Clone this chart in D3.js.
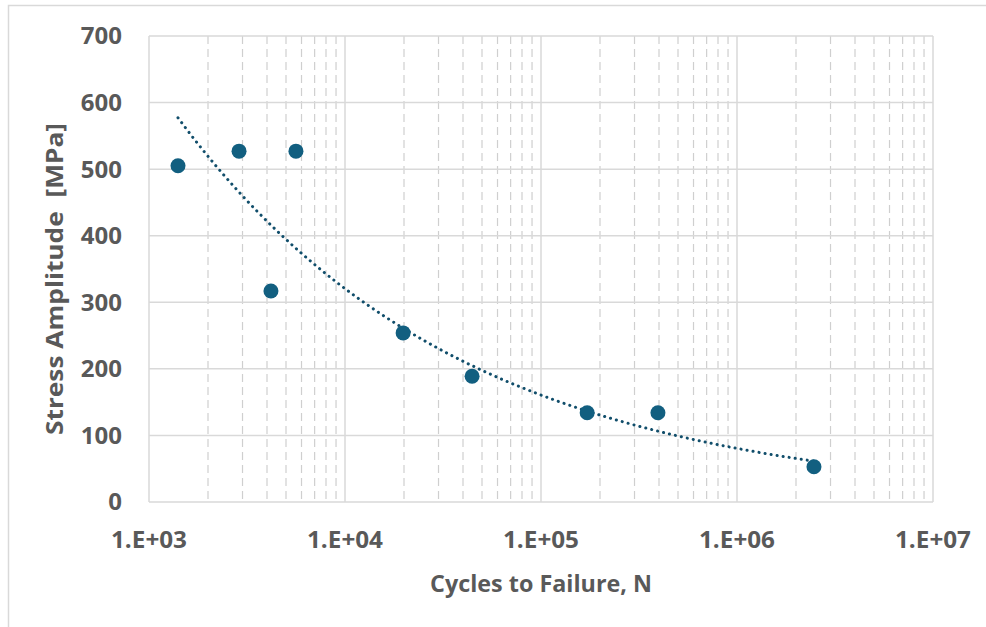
<!DOCTYPE html>
<html>
<head>
<meta charset="utf-8">
<script src="https://cdn.jsdelivr.net/npm/d3@7"></script>
<style>
  body { margin: 0; background: #fff; }
  svg text { font-family: "Open Sans", "Liberation Sans", sans-serif; font-weight: 700; fill: #595959; }
</style>
</head>
<body>
<svg id="chart" width="986" height="627"></svg>
<script>
// measured specimens: cycles to failure vs stress amplitude
var cycles = [1406, 2880, 5620, 4190, 19800, 44500, 172000, 395000, 2470000];
var stress = [505, 527, 527, 317, 254, 189, 134, 134, 53];

var yTicks = [0, 100, 200, 300, 400, 500, 600, 700];
var xDecades = [1e3, 1e4, 1e5, 1e6, 1e7];
var xTickLabels = ['1.E+03', '1.E+04', '1.E+05', '1.E+06', '1.E+07'];

const plotLeft = 149;
const plotRight = 933;
const plotTop = 36;
const plotBottom = 502;
const gridColor = '#d9d9d9';
const dotColor = '#125f80';
const trendColor = '#114e6b';

var svg = d3.select('#chart');

// outer chart frame (runs off the right/bottom of the photo)
svg.append('rect')
  .attr('x', 8.5).attr('y', 5.5)
  .attr('width', 1000).attr('height', 640)
  .attr('fill', 'none').attr('stroke', gridColor).attr('stroke-width', 1.5);

var x = d3.scaleLog().domain([1e3, 1e7]).range([plotLeft, plotRight]);
var y = d3.scaleLinear().domain([0, 700]).range([plotBottom, plotTop]);

// minor decade lines 2..9 x 10^k
var minorTicks = [];
xDecades.slice(0, -1).forEach(function (d) {
  for (var m = 2; m <= 9; m++) minorTicks.push(d * m);
});

var grid = svg.append('g');
grid.selectAll('.minor')
  .data(minorTicks)
  .enter().append('line')
  .attr('x1', d => x(d)).attr('x2', d => x(d))
  .attr('y1', plotTop).attr('y2', plotBottom)
  .attr('stroke', '#cfcfcf').attr('stroke-width', 1.2)
  .attr('stroke-dasharray', '8,5');

grid.selectAll('.hgrid')
  .data(yTicks)
  .enter().append('line')
  .attr('x1', plotLeft).attr('x2', plotRight)
  .attr('y1', d => y(d)).attr('y2', d => y(d))
  .attr('stroke', gridColor).attr('stroke-width', 1.5);

grid.selectAll('.major')
  .data(xDecades)
  .enter().append('line')
  .attr('x1', d => x(d)).attr('x2', d => x(d))
  .attr('y1', plotTop).attr('y2', plotBottom)
  .attr('stroke', gridColor).attr('stroke-width', 1.5);

// tick labels
svg.append('g').selectAll('text')
  .data(yTicks)
  .enter().append('text')
  .attr('x', 122).attr('y', d => y(d))
  .attr('dy', '0.35em')
  .attr('text-anchor', 'end')
  .style('font-size', '24px')
  .text(d => d);

svg.append('g').selectAll('text')
  .data(xDecades)
  .enter().append('text')
  .attr('x', d => x(d)).attr('y', 548)
  .attr('text-anchor', 'middle')
  .attr('textLength', 76)
  .attr('lengthAdjust', 'spacingAndGlyphs')
  .style('font-size', '24px')
  .text((d, i) => xTickLabels[i]);

// axis titles
svg.append('text')
  .attr('x', (plotLeft + plotRight) / 2).attr('y', 592)
  .attr('text-anchor', 'middle')
  .attr('textLength', 222)
  .attr('lengthAdjust', 'spacingAndGlyphs')
  .style('font-size', '23px')
  .text('Cycles to Failure, N');

svg.append('text')
  .attr('transform', 'translate(63,' + 279 + ') rotate(-90)')
  .attr('text-anchor', 'middle')
  .attr('textLength', 312)
  .attr('lengthAdjust', 'spacingAndGlyphs')
  .style('font-size', '24px')
  .style('white-space', 'pre')
  .attr('xml:space', 'preserve')
  .text('Stress Amplitude  [MPa]');

// power trendline, least squares on ln-ln like the spreadsheet does
var lx = cycles.map(Math.log);
var ly = stress.map(Math.log);
var mx = d3.mean(lx);
var my = d3.mean(ly);
var sxy = d3.sum(lx, (v, i) => (v - mx) * (ly[i] - my));
var sxx = d3.sum(lx, v => (v - mx) * (v - mx));
var b = sxy / sxx;
var a = Math.exp(my - b * mx);

var lo = Math.log10(d3.min(cycles));
var hi = Math.log10(d3.max(cycles));
var trendX = d3.range(0, 101).map(i => Math.pow(10, lo + (hi - lo) * i / 100));

svg.append('path')
  .datum(trendX)
  .attr('fill', 'none')
  .attr('stroke', trendColor)
  .attr('stroke-width', 3)
  .attr('stroke-linecap', 'round')
  .attr('stroke-dasharray', '0.1,6')
  .attr('d', d3.line().x(d => x(d)).y(d => y(a * Math.pow(d, b))));

svg.append('g').selectAll('circle')
  .data(cycles)
  .enter().append('circle')
  .attr('cx', d => x(d))
  .attr('cy', (d, i) => y(stress[i]))
  .attr('r', 7.5)
  .attr('fill', dotColor);
</script>
</body>
</html>
